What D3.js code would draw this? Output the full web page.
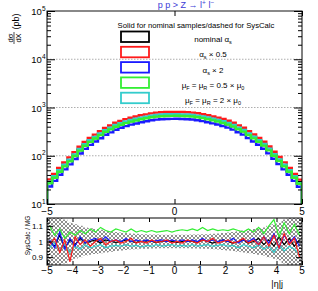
<!DOCTYPE html>
<html>
<head>
<meta charset="utf-8">
<script src="https://cdn.jsdelivr.net/npm/d3@7"></script>
<style>
  body { margin: 0; background: #fff; }
  svg { font-family: "Liberation Sans", Arial, sans-serif; }
</style>
</head>
<body>
<svg id="chart" width="318" height="291"></svg>
<script>
// binning of |eta|j : 50 bins from -5 to 5
var etaLo = -5, etaHi = 5, nBins = 50;

// dsigma/dX (pb) per bin
var nominal = [27.5, 36, 48, 62, 79, 102, 132, 166, 200, 234, 275, 324, 363, 412, 452, 490, 525, 556, 589, 617, 646, 668, 681, 689, 692,
               694, 688, 680, 670, 648, 620, 590, 558, 527, 492, 455, 414, 365, 326, 276, 236, 201, 167, 133, 103, 80, 62, 48, 36, 27];
var asHalf  = [32.2, 42.1, 56.2, 72.5, 92.4, 119, 154, 194, 234, 274, 322, 379, 425, 482, 529, 573, 614, 651, 689, 722, 756, 782, 797, 806, 810,
               812, 805, 796, 784, 758, 725, 690, 653, 617, 576, 532, 484, 427, 381, 323, 276, 235, 195, 156, 121, 94, 73, 56, 42, 32];
var asTwice = [23.1, 30.2, 40.3, 52.1, 66.4, 85.7, 111, 139, 168, 197, 231, 272, 305, 346, 380, 412, 441, 467, 495, 518, 543, 561, 572, 579, 581,
               583, 578, 571, 563, 544, 521, 496, 469, 443, 413, 382, 348, 307, 274, 232, 198, 169, 140, 112, 86.5, 67.2, 52.1, 40.3, 30.2, 22.7];
var muHalf  = [26.7, 34.9, 46.6, 60.1, 76.6, 98.9, 128, 161, 194, 227, 267, 314, 352, 400, 438, 475, 509, 539, 571, 598, 627, 648, 661, 668, 671,
               673, 667, 660, 650, 629, 601, 572, 541, 511, 477, 441, 402, 354, 316, 268, 229, 195, 162, 129, 99.9, 77.6, 60.1, 46.6, 34.9, 26.2];
var muTwice = [28.9, 37.8, 50.4, 65.1, 83, 107, 139, 174, 210, 246, 289, 340, 381, 433, 475, 515, 551, 584, 618, 648, 678, 701, 715, 723, 727,
               729, 722, 714, 704, 680, 651, 620, 586, 553, 517, 478, 435, 383, 342, 290, 248, 211, 175, 140, 108, 84, 65, 50.4, 37.8, 28.4];

// SysCalc / MG ratios per bin
var rNominal = [1.00, 0.97, 1.04, 0.96, 1.01, 0.98, 1.02, 0.99, 1.00, 1.01, 0.99, 1.01, 1.00, 0.995, 1.00, 1.01, 1.00, 0.995, 1.00, 1.005, 1.00, 0.995, 1.00, 1.005, 1.00,
                0.995, 1.00, 1.005, 1.00, 0.995, 1.01, 1.00, 0.99, 1.00, 1.01, 1.00, 0.99, 1.00, 1.01, 0.99, 1.00, 1.02, 0.98, 1.01, 0.97, 1.03, 0.98, 1.02, 0.97, 1.01];
var rAsHalf  = [0.98, 1.02, 0.93, 1.01, 0.87, 1.03, 0.98, 1.01, 0.97, 1.00, 1.02, 0.98, 1.00, 1.01, 0.99, 1.00, 1.02, 0.99, 1.00, 0.99, 1.01, 0.995, 1.00, 1.01, 0.99,
                1.00, 0.99, 1.01, 1.00, 0.99, 1.01, 1.00, 1.02, 0.99, 1.00, 1.01, 0.99, 1.00, 1.02, 0.99, 1.01, 0.98, 1.03, 0.97, 1.04, 0.96, 1.05, 0.98, 1.02, 0.90];
var rAsTwice = [1.01, 0.96, 1.06, 0.95, 1.02, 0.97, 1.03, 0.99, 1.01, 1.02, 1.00, 1.03, 1.00, 1.01, 1.00, 1.02, 1.00, 1.01, 1.00, 1.01, 1.00, 1.005, 1.01, 1.00, 1.01,
                1.00, 1.01, 1.00, 1.01, 1.00, 1.02, 1.00, 1.01, 1.00, 1.01, 1.00, 1.02, 0.99, 1.01, 1.00, 1.02, 0.98, 1.03, 0.99, 1.05, 0.96, 1.04, 0.99, 1.03, 0.97];
var rMuHalf  = [1.10, 1.04, 1.08, 1.02, 1.06, 1.04, 1.07, 1.05, 1.08, 1.06, 1.09, 1.07, 1.06, 1.08, 1.07, 1.06, 1.08, 1.06, 1.07, 1.06, 1.07, 1.06, 1.065, 1.07, 1.06,
                1.07, 1.075, 1.07, 1.08, 1.07, 1.09, 1.07, 1.08, 1.07, 1.075, 1.07, 1.08, 1.07, 1.06, 1.08, 1.06, 1.09, 1.05, 1.10, 1.14, 1.03, 1.12, 1.05, 1.11, 1.04];
var rMuTwice = [0.96, 0.99, 0.94, 0.98, 0.93, 0.97, 0.95, 0.98, 0.96, 0.97, 0.98, 0.96, 0.97, 0.975, 0.97, 0.98, 0.97, 0.975, 0.965, 0.975, 0.97, 0.98, 0.97, 0.975, 0.98,
                0.97, 0.975, 0.97, 0.98, 0.97, 0.975, 0.98, 0.97, 0.975, 0.98, 0.97, 0.975, 0.96, 0.98, 0.97, 0.96, 0.98, 0.95, 0.97, 0.93, 0.98, 0.94, 0.97, 0.95, 0.92];
// statistical half-width of the hatched band
var bandErr = [0.20, 0.18, 0.16, 0.14, 0.12, 0.11, 0.10, 0.09, 0.085, 0.08, 0.075, 0.07, 0.065, 0.06, 0.057, 0.054, 0.051, 0.049, 0.047, 0.046, 0.045, 0.044, 0.043, 0.043, 0.043,
               0.043, 0.043, 0.043, 0.044, 0.045, 0.046, 0.047, 0.049, 0.051, 0.054, 0.057, 0.06, 0.065, 0.07, 0.075, 0.08, 0.085, 0.09, 0.10, 0.11, 0.12, 0.14, 0.16, 0.18, 0.20];

// ticks
var xTicksTop = [-5, 0, 5];
var xTicksRatio = [-5, -4, -3, -2, -1, 0, 1, 2, 3, 4, 5];
var yExps = [1, 2, 3, 4, 5];
var gridExps = [2, 3, 4];
var rTicks = [0.9, 1, 1.1];

var series = [
  {name: "nominal", h: nominal, r: rNominal, color: "#000000"},
  {name: "asHalf",  h: asHalf,  r: rAsHalf,  color: "#ff1a1a"},
  {name: "asTwice", h: asTwice, r: rAsTwice, color: "#1a1aff"},
  {name: "muTwice", h: muTwice, r: rMuTwice, color: "#33cccc"},
  {name: "muHalf",  h: muHalf,  r: rMuHalf,  color: "#33ee33"}
];
var legendOrder = ["nominal", "asHalf", "asTwice", "muHalf", "muTwice"];

// layout
var L = 47, R = 302, T1 = 11, B1 = 204, T2 = 218, B2 = 265;

var svg = d3.select("#chart");
svg.append("rect").attr("width", 318).attr("height", 291).attr("fill", "#fff");

var x = d3.scaleLinear().domain([etaLo, etaHi]).range([L, R]);
var y = d3.scaleLog().domain([10, 1e5]).range([B1, T1]);
var yr = d3.scaleLinear().domain([0.85, 1.15]).range([B2, T2]);

var bw = (etaHi - etaLo) / nBins;
function edge(i) { return etaLo + i * bw; }

var defs = svg.append("defs");
defs.append("clipPath").attr("id", "clipTop").append("rect")
  .attr("x", L).attr("y", T1).attr("width", R - L).attr("height", B1 - T1);
defs.append("clipPath").attr("id", "clipRatio").append("rect")
  .attr("x", L).attr("y", T2).attr("width", R - L).attr("height", B2 - T2);
var pat = defs.append("pattern").attr("id", "hatch").attr("patternUnits", "userSpaceOnUse")
  .attr("width", 4).attr("height", 4);
pat.append("path").attr("d", "M0,0L4,4M4,0L0,4").attr("stroke", "#444").attr("stroke-width", 0.6);

// ---------- top panel ----------
svg.append("g").selectAll("line").data(gridExps).enter().append("line")
  .attr("x1", L).attr("x2", R)
  .attr("y1", function(d) { return y(Math.pow(10, d)); })
  .attr("y2", function(d) { return y(Math.pow(10, d)); })
  .attr("stroke", "#999").attr("stroke-width", 0.8).attr("stroke-dasharray", "1.5,1.5");

var histLine = d3.line().x(function(d) { return x(d[0]); }).y(function(d) { return y(d[1]); });
function histPoints(vals) {
  var pts = [[etaLo, 10]];
  vals.forEach(function(v, i) { pts.push([edge(i), v]); pts.push([edge(i + 1), v]); });
  pts.push([etaHi, 10]);
  return pts;
}
svg.append("g").attr("clip-path", "url(#clipTop)")
  .selectAll("path").data(series).enter().append("path")
  .attr("d", function(d) { return histLine(histPoints(d.h)); })
  .attr("fill", "none").attr("stroke", function(d) { return d.color; })
  .attr("stroke-width", 2.4);

// frame
svg.append("rect").attr("x", L).attr("y", T1).attr("width", R - L).attr("height", B1 - T1)
  .attr("fill", "none").attr("stroke", "#000").attr("stroke-width", 1);
svg.append("line").attr("x1", L).attr("x2", R).attr("y1", T1).attr("y2", T1)
  .attr("stroke", "#888").attr("stroke-width", 2);

var minorLog = [];
yExps.slice(0, -1).forEach(function(e) { for (var k = 2; k <= 9; k++) minorLog.push(k * Math.pow(10, e)); });
var majorLog = yExps.map(function(e) { return Math.pow(10, e); });

function tickAxis(axis, tr) {
  var g = svg.append("g").attr("transform", tr).call(axis);
  g.select(".domain").remove();
  g.selectAll("line").attr("stroke", "#000");
  return g;
}
tickAxis(d3.axisLeft(y).tickValues(minorLog).tickSize(-4).tickFormat(""), "translate(" + L + ",0)");
tickAxis(d3.axisLeft(y).tickValues(majorLog).tickSize(-8).tickFormat(""), "translate(" + L + ",0)");
tickAxis(d3.axisRight(y).tickValues(minorLog).tickSize(-4).tickFormat(""), "translate(" + R + ",0)");
tickAxis(d3.axisRight(y).tickValues(majorLog).tickSize(-8).tickFormat(""), "translate(" + R + ",0)");
tickAxis(d3.axisBottom(x).tickValues(xTicksTop).tickSize(-5).tickFormat(""), "translate(0," + B1 + ")");
tickAxis(d3.axisTop(x).tickValues(xTicksTop).tickSize(-5).tickFormat(""), "translate(0," + T1 + ")");

// y labels 10^n
var yl = svg.append("g").attr("font-size", 9.5).attr("text-anchor", "end");
yExps.forEach(function(e) {
  var t = yl.append("text").attr("x", 45.5).attr("y", y(Math.pow(10, e)) + 4);
  t.append("tspan").text("10");
  t.append("tspan").attr("dy", -4.5).attr("font-size", 6.5).text(e);
});

svg.append("g").attr("font-size", 10).attr("text-anchor", "middle")
  .selectAll("text").data(xTicksTop).enter().append("text")
  .attr("x", function(d) { return x(d); }).attr("y", 215)
  .text(function(d) { return d < 0 ? "\u2212" + (-d) : d; });

// y title: d sigma / dX (pb), rotated
var yt = svg.append("g").attr("transform", "rotate(-90)").attr("text-anchor", "middle");
yt.append("text").attr("x", -38).attr("y", 12.5).attr("font-size", 7.5).text("d\u03c3");
yt.append("line").attr("x1", -44).attr("x2", -32).attr("y1", 14).attr("y2", 14).attr("stroke", "#000").attr("stroke-width", 0.7);
yt.append("text").attr("x", -38).attr("y", 20.5).attr("font-size", 7.5).text("dX");
yt.append("text").attr("x", -21.5).attr("y", 18.5).attr("font-size", 9).text("(pb)");

// title
var title = svg.append("text").attr("x", 186).attr("y", 8).attr("text-anchor", "middle")
  .attr("font-size", 9).attr("fill", "#3b3bd6");
title.append("tspan").text("p p > Z \u2192 l");
title.append("tspan").attr("dy", -3).attr("font-size", 6.5).text("+");
title.append("tspan").attr("dy", 3).text(" l");
title.append("tspan").attr("dy", -3).attr("font-size", 6.5).text("\u2212");

// legend
svg.append("text").attr("x", 196).attr("y", 28).attr("text-anchor", "middle")
  .attr("font-size", 7.7).text("Solid for nominal samples/dashed for SysCalc");

var legendLabels = {
  nominal: [["nominal \u03b1", 0], ["s", 1]],
  asHalf:  [["\u03b1", 0], ["s", 1], [" \u00d7 0.5", 0]],
  asTwice: [["\u03b1", 0], ["s", 1], [" \u00d7 2", 0]],
  muHalf:  [["\u03bc", 0], ["F", 1], [" = \u03bc", 0], ["R", 1], [" = 0.5 \u00d7 \u03bc", 0], ["0", 1]],
  muTwice: [["\u03bc", 0], ["F", 1], [" = \u03bc", 0], ["R", 1], [" = 2 \u00d7 \u03bc", 0], ["0", 1]]
};
var colorOf = {};
series.forEach(function(s) { colorOf[s.name] = s.color; });
var lg = svg.append("g").selectAll("g").data(legendOrder).enter().append("g")
  .attr("transform", function(d, i) { return "translate(0," + (36.5 + i * 15.3) + ")"; });
lg.append("rect").attr("x", 121).attr("y", -5).attr("width", 28).attr("height", 10.5)
  .attr("fill", "none").attr("stroke", function(d) { return colorOf[d]; }).attr("stroke-width", 1.8);
lg.append("text").attr("x", 213).attr("y", 5.5).attr("text-anchor", "middle").attr("font-size", 8)
  .each(function(d) {
    var t = d3.select(this), prev = 0;
    legendLabels[d].forEach(function(p) {
      var ts = t.append("tspan").text(p[0]);
      var dy = (p[1] ? 2 : 0) - prev;
      if (dy) ts.attr("dy", dy);
      if (p[1]) ts.attr("font-size", 5.5);
      prev = p[1] ? 2 : 0;
    });
  });

// ---------- ratio panel ----------
var band = d3.area().x(function(d) { return x(d[0]); })
  .y0(function(d) { return yr(1 - d[1]); }).y1(function(d) { return yr(1 + d[1]); });
var bandPts = [];
bandErr.forEach(function(e, i) { bandPts.push([edge(i), e]); bandPts.push([edge(i + 1), e]); });
var rg = svg.append("g").attr("clip-path", "url(#clipRatio)");
rg.append("path").attr("d", band(bandPts)).attr("fill", "url(#hatch)").attr("stroke", "none");

var rLine = d3.line().x(function(d, i) { return x(edge(i) + bw / 2); }).y(function(d) { return yr(d); });
var ratioOrder = ["nominal", "muHalf", "muTwice", "asTwice", "asHalf"];
rg.selectAll("path.r").data(ratioOrder.map(function(n) { return series.find(function(s) { return s.name === n; }); }))
  .enter().append("path").attr("class", "r")
  .attr("d", function(d) { return rLine(d.r); })
  .attr("fill", "none").attr("stroke", function(d) { return d.color; }).attr("stroke-width", 1.2);

svg.append("rect").attr("x", L).attr("y", T2).attr("width", R - L).attr("height", B2 - T2)
  .attr("fill", "none").attr("stroke", "#000").attr("stroke-width", 1);

var rMinor = d3.range(43, 58).map(function(k) { return k * 0.02; });
tickAxis(d3.axisBottom(x).tickValues(xTicksRatio).tickSize(-4).tickFormat(""), "translate(0," + B2 + ")");
tickAxis(d3.axisTop(x).tickValues(xTicksRatio).tickSize(-4).tickFormat(""), "translate(0," + T2 + ")");
tickAxis(d3.axisLeft(yr).tickValues(rMinor).tickSize(-3).tickFormat(""), "translate(" + L + ",0)");
tickAxis(d3.axisLeft(yr).tickValues(rTicks).tickSize(-6).tickFormat(""), "translate(" + L + ",0)");
tickAxis(d3.axisRight(yr).tickValues(rMinor).tickSize(-3).tickFormat(""), "translate(" + R + ",0)");
tickAxis(d3.axisRight(yr).tickValues(rTicks).tickSize(-6).tickFormat(""), "translate(" + R + ",0)");

svg.append("g").attr("font-size", 8).attr("text-anchor", "end")
  .selectAll("text").data(rTicks).enter().append("text")
  .attr("x", 43).attr("y", function(d) { return yr(d) + 3; })
  .text(function(d) { return d; });

svg.append("g").attr("font-size", 10).attr("text-anchor", "middle")
  .selectAll("text").data(xTicksRatio).enter().append("text")
  .attr("x", function(d) { return x(d); }).attr("y", 274)
  .text(function(d) { return d < 0 ? "\u2212" + (-d) : d; });

svg.append("text").attr("x", 283).attr("y", 287).attr("text-anchor", "end")
  .attr("font-size", 9).text("|\u03b7|j");

svg.append("text").attr("transform", "rotate(-90)").attr("x", -235.5).attr("y", 30)
  .attr("text-anchor", "middle").attr("font-size", 6.5).text("SysCalc / MG");
</script>
</body>
</html>
